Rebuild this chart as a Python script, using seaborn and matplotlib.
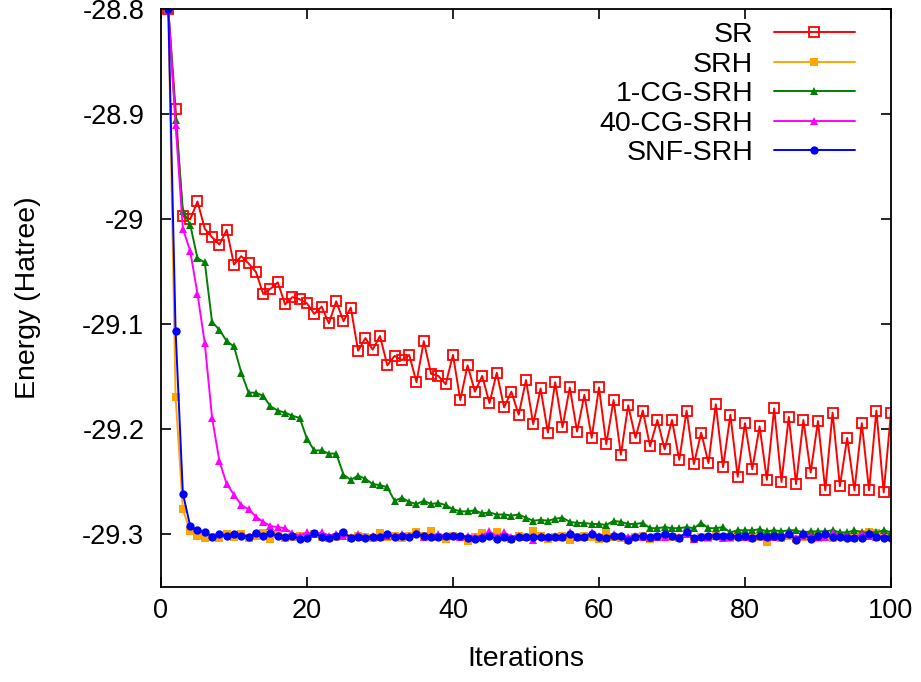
import numpy as np
import pandas as pd
import matplotlib
matplotlib.use("Agg")
import matplotlib.pyplot as plt
import seaborn as sns

iterations = list(range(1, 101))

sr = [-28.800, -28.895, -28.997, -29.000, -28.983, -29.009, -29.017, -29.024, -29.010, -29.043,
      -29.035, -29.042, -29.050, -29.071, -29.066, -29.060, -29.081, -29.074, -29.076, -29.080,
      -29.090, -29.083, -29.099, -29.078, -29.097, -29.084, -29.125, -29.113, -29.124, -29.111,
      -29.139, -29.130, -29.134, -29.129, -29.155, -29.116, -29.147, -29.149, -29.157, -29.129,
      -29.172, -29.139, -29.164, -29.149, -29.175, -29.146, -29.179, -29.164, -29.186, -29.153,
      -29.195, -29.161, -29.203, -29.155, -29.198, -29.160, -29.202, -29.167, -29.208, -29.160,
      -29.214, -29.172, -29.224, -29.177, -29.208, -29.182, -29.216, -29.191, -29.219, -29.191,
      -29.229, -29.182, -29.233, -29.203, -29.232, -29.176, -29.236, -29.186, -29.245, -29.194,
      -29.238, -29.197, -29.248, -29.180, -29.250, -29.188, -29.252, -29.191, -29.241, -29.192,
      -29.258, -29.184, -29.254, -29.208, -29.258, -29.194, -29.258, -29.182, -29.260, -29.184]

srh = [-28.800, -29.169, -29.276, -29.297, -29.301, -29.303, -29.302, -29.303, -29.300, -29.302,
       -29.300, -29.303, -29.301, -29.299, -29.304, -29.300, -29.303, -29.302, -29.301, -29.302,
       -29.300, -29.302, -29.303, -29.302, -29.300, -29.303, -29.301, -29.302, -29.303, -29.299,
       -29.302, -29.301, -29.303, -29.301, -29.298, -29.301, -29.297, -29.302, -29.304, -29.301,
       -29.302, -29.306, -29.302, -29.299, -29.301, -29.298, -29.302, -29.304, -29.301, -29.302,
       -29.297, -29.301, -29.304, -29.302, -29.301, -29.305, -29.302, -29.301, -29.302, -29.304,
       -29.298, -29.302, -29.303, -29.305, -29.302, -29.301, -29.304, -29.302, -29.301, -29.302,
       -29.303, -29.300, -29.304, -29.302, -29.303, -29.301, -29.302, -29.303, -29.301, -29.302,
       -29.303, -29.302, -29.307, -29.302, -29.303, -29.301, -29.304, -29.302, -29.301, -29.303,
       -29.302, -29.303, -29.301, -29.302, -29.303, -29.300, -29.298, -29.299, -29.301, -29.302]

cg1_srh = [-28.800, -28.905, -28.992, -29.005, -29.037, -29.041, -29.098, -29.105, -29.116, -29.121,
           -29.146, -29.165, -29.165, -29.168, -29.178, -29.182, -29.184, -29.187, -29.189, -29.209,
           -29.220, -29.220, -29.223, -29.223, -29.243, -29.248, -29.244, -29.247, -29.252, -29.253,
           -29.255, -29.268, -29.265, -29.269, -29.271, -29.268, -29.271, -29.270, -29.272, -29.276,
           -29.278, -29.278, -29.277, -29.280, -29.279, -29.281, -29.281, -29.282, -29.281, -29.284,
           -29.287, -29.286, -29.287, -29.285, -29.284, -29.288, -29.289, -29.289, -29.290, -29.290,
           -29.291, -29.287, -29.288, -29.290, -29.290, -29.289, -29.294, -29.294, -29.293, -29.294,
           -29.294, -29.293, -29.294, -29.289, -29.294, -29.294, -29.293, -29.298, -29.296, -29.296,
           -29.296, -29.295, -29.297, -29.296, -29.297, -29.296, -29.296, -29.298, -29.297, -29.297,
           -29.297, -29.296, -29.298, -29.298, -29.296, -29.298, -29.298, -29.298, -29.296, -29.298]

cg40_srh = [-28.800, -28.910, -29.009, -29.030, -29.071, -29.118, -29.189, -29.230, -29.252, -29.262,
            -29.272, -29.276, -29.283, -29.288, -29.292, -29.293, -29.294, -29.299, -29.301, -29.298,
            -29.300, -29.298, -29.301, -29.300, -29.301, -29.302, -29.300, -29.302, -29.301, -29.302,
            -29.301, -29.301, -29.300, -29.301, -29.299, -29.302, -29.301, -29.300, -29.301, -29.301,
            -29.302, -29.301, -29.302, -29.301, -29.297, -29.302, -29.298, -29.302, -29.301, -29.302,
            -29.305, -29.301, -29.302, -29.301, -29.302, -29.298, -29.302, -29.302, -29.298, -29.301,
            -29.303, -29.300, -29.301, -29.302, -29.301, -29.302, -29.303, -29.302, -29.302, -29.301,
            -29.302, -29.300, -29.304, -29.302, -29.302, -29.301, -29.303, -29.302, -29.301, -29.302,
            -29.302, -29.301, -29.302, -29.302, -29.301, -29.300, -29.303, -29.301, -29.301, -29.302,
            -29.302, -29.299, -29.301, -29.301, -29.302, -29.300, -29.301, -29.302, -29.301, -29.302]

snf_srh = [-28.800, -29.106, -29.261, -29.292, -29.296, -29.298, -29.302, -29.300, -29.301, -29.300,
           -29.301, -29.302, -29.299, -29.301, -29.299, -29.301, -29.302, -29.301, -29.304, -29.303,
           -29.299, -29.302, -29.303, -29.301, -29.298, -29.303, -29.302, -29.303, -29.302, -29.302,
           -29.300, -29.302, -29.301, -29.302, -29.300, -29.301, -29.302, -29.302, -29.301, -29.301,
           -29.301, -29.303, -29.304, -29.303, -29.301, -29.304, -29.302, -29.304, -29.302, -29.302,
           -29.302, -29.302, -29.302, -29.302, -29.302, -29.300, -29.302, -29.302, -29.300, -29.302,
           -29.303, -29.301, -29.301, -29.305, -29.302, -29.301, -29.302, -29.301, -29.300, -29.301,
           -29.303, -29.298, -29.303, -29.302, -29.301, -29.301, -29.301, -29.301, -29.302, -29.301,
           -29.303, -29.301, -29.302, -29.301, -29.302, -29.300, -29.305, -29.300, -29.304, -29.301,
           -29.300, -29.302, -29.302, -29.303, -29.303, -29.303, -29.300, -29.302, -29.303, -29.303]

series_names = ["SR", "SRH", "1-CG-SRH", "40-CG-SRH", "SNF-SRH"]
series_values = [sr, srh, cg1_srh, cg40_srh, snf_srh]
x_ticks = [0, 20, 40, 60, 80, 100]
y_ticks = [-28.8, -28.9, -29.0, -29.1, -29.2, -29.3]
y_tick_labels = ["-28.8", "-28.9", "-29", "-29.1", "-29.2", "-29.3"]

colors = ["#ff0000", "#ffa500", "#008000", "#ff00ff", "#0000ff"]
styles = [
    dict(marker="s", markersize=6.5, markerfacecolor="none", markeredgecolor="#ff0000", markeredgewidth=1.3),
    dict(marker="s", markersize=5.8, markeredgewidth=0),
    dict(marker="^", markersize=5.6, markeredgewidth=0),
    dict(marker="^", markersize=5.6, markeredgewidth=0),
    dict(marker="o", markersize=6, markeredgewidth=0),
]

sns.set_style("ticks")
plt.rcParams["font.family"] = ["Liberation Sans", "DejaVu Sans"]
plt.rcParams["text.color"] = "black"
plt.rcParams["axes.labelcolor"] = "black"

fig = plt.figure(figsize=(9.21, 6.82), dpi=100)
ax = fig.add_axes([0.1748, 0.1393, 0.9674 - 0.1748, 0.9864 - 0.1393])

for name, vals, col, st in zip(series_names, series_values, colors, styles):
    df = pd.DataFrame({"Iterations": iterations, "Energy": vals})
    sns.lineplot(data=df, x="Iterations", y="Energy", ax=ax, color=col, linewidth=1.4,
                 label=name, **st)

ax.set_xlim(0, 100)
ax.set_ylim(-29.35, -28.8)
ax.set_xticks(x_ticks)
ax.set_yticks(y_ticks)
ax.set_yticklabels(y_tick_labels)
ax.tick_params(direction="in", length=7, width=1.2, top=True, right=True,
               labelsize=19.5, colors="black")
ax.tick_params(axis="x", pad=8)
ax.tick_params(axis="y", pad=12)
for sp in ax.spines.values():
    sp.set_linewidth(1.3)
    sp.set_color("black")
ax.set_xlabel("Iterations", fontsize=20.5, labelpad=16, color="black")
ax.set_ylabel("Energy (Hatree)", fontsize=20.5, labelpad=30, color="black")

leg = ax.legend(loc="upper right", frameon=False, markerfirst=False, fontsize=20.5,
                handlelength=2.85, handletextpad=0.72, labelspacing=0.12,
                borderaxespad=0, borderpad=0, bbox_to_anchor=(0.9507, 0.9775))
for t in leg.get_texts():
    t.set_color("black")

fig.savefig("out.png", dpi=100)
